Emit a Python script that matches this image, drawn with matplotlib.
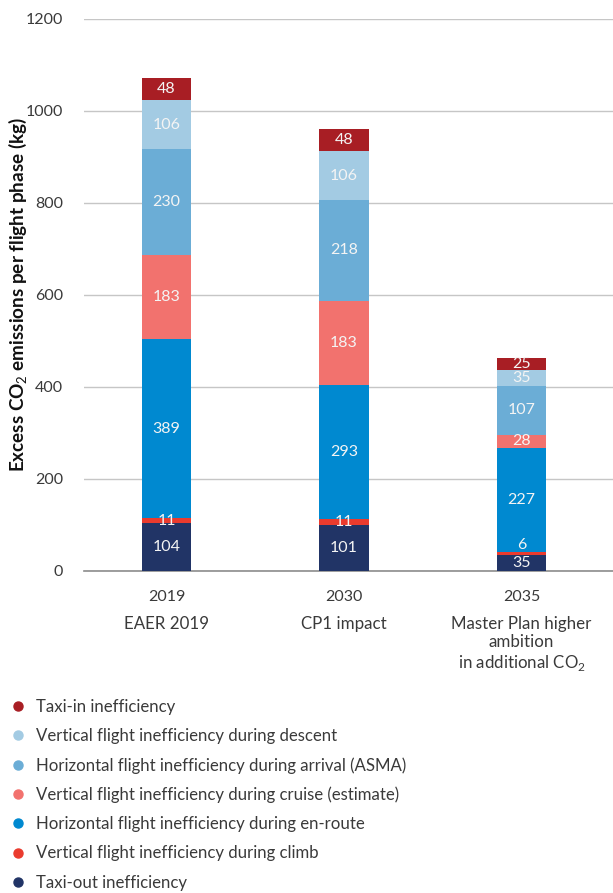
import numpy as np
import matplotlib.pyplot as plt
from matplotlib.lines import Line2D
from matplotlib.transforms import blended_transform_factory

plt.rcParams['font.family'] = ['Lato', 'DejaVu Sans']
plt.rcParams['mathtext.fontset'] = 'custom'
plt.rcParams['mathtext.rm'] = 'Lato'
plt.rcParams['mathtext.bf'] = 'Lato:bold'

years = ['2019', '2030', '2035']
scenarios = ['EAER 2019', 'CP1 impact', 'Master Plan higher\nambition\nin additional CO$_2$']

# flight phases, bottom of the stack first
phases = [
    'Taxi-out inefficiency',
    'Vertical flight inefficiency during climb',
    'Horizontal flight inefficiency during en-route',
    'Vertical flight inefficiency during cruise (estimate)',
    'Horizontal flight inefficiency during arrival (ASMA)',
    'Vertical flight inefficiency during descent',
    'Taxi-in inefficiency',
]
taxi_out = [104, 101, 35]
climb = [11, 11, 6]
en_route = [389, 293, 227]
cruise = [183, 183, 28]
arrival = [230, 218, 107]
descent = [106, 106, 35]
taxi_in = [48, 48, 25]
series = [taxi_out, climb, en_route, cruise, arrival, descent, taxi_in]

colors = ['#213466', '#ea3b2e', '#0089d0', '#f2726e', '#6badd6', '#a3cbe3', '#a81e24']

fig = plt.figure(figsize=(6.13, 8.93), dpi=100)
ax = fig.add_axes([84 / 613, 1 - 571 / 893, 1 - 84 / 613, (571 - 19) / 893])

x = np.arange(len(years))
bottom = np.zeros(len(years))
for vals, col in zip(series, colors):
    vals = np.array(vals, dtype=float)
    ax.bar(x, vals, width=0.277, bottom=bottom, color=col, zorder=3)
    for xi, b, v in zip(x, bottom, vals):
        if v < 10:
            # too thin to hold the number: put it just above the segment
            ax.text(xi, b + v, '%d' % v, ha='center', va='bottom',
                    color='#f4f4f4', fontsize=11.5, zorder=4)
        else:
            ax.text(xi, b + v / 2, '%d' % v, ha='center', va='center',
                    color='#f4f4f4', fontsize=11.5, zorder=4)
    bottom += vals

ax.set_xlim(-0.465, 2.515)
ax.set_ylim(0, 1200)
ax.set_yticks(np.arange(0, 1201, 200))
ax.yaxis.grid(True, color='#c6c6c6', linewidth=1)
ax.set_axisbelow(True)
for s in ['top', 'right', 'left']:
    ax.spines[s].set_visible(False)
ax.spines['bottom'].set_color('#8c8c8c')
ax.spines['bottom'].set_linewidth(1.2)
ax.tick_params(axis='both', length=0, labelsize=11.5, labelcolor='#3a3a3a')
ax.tick_params(axis='y', pad=15)
ax.tick_params(axis='x', pad=14)
ax.set_xticks(x)
ax.set_xticklabels(years)

# scenario names under the years
trans = blended_transform_factory(ax.transData, fig.transFigure)
for xi, name in zip(x, scenarios):
    ax.text(xi, 1 - 616 / 893, name, transform=trans, ha='center', va='top',
            fontsize=12.2, color='#3a3a3a', linespacing=1.17)

ax.set_ylabel('Excess CO$_2$ emissions per flight phase (kg)', fontsize=13.6,
              fontweight='bold', color='#111111')
ax.yaxis.set_label_coords(-0.104, 0.5)

handles = [Line2D([], [], marker='o', linestyle='none', markersize=6.5,
                  markerfacecolor=c, markeredgecolor=c)
           for c in colors[::-1]]
fig.legend(handles, phases[::-1], loc='upper left',
           bbox_to_anchor=(0.0, 1 - 687 / 893), frameon=False, fontsize=12.1,
           labelspacing=0.78, handlelength=0.8, handletextpad=0.65,
           labelcolor='#3a3a3a', borderaxespad=0.3)

fig.savefig('out.png', dpi=100)
